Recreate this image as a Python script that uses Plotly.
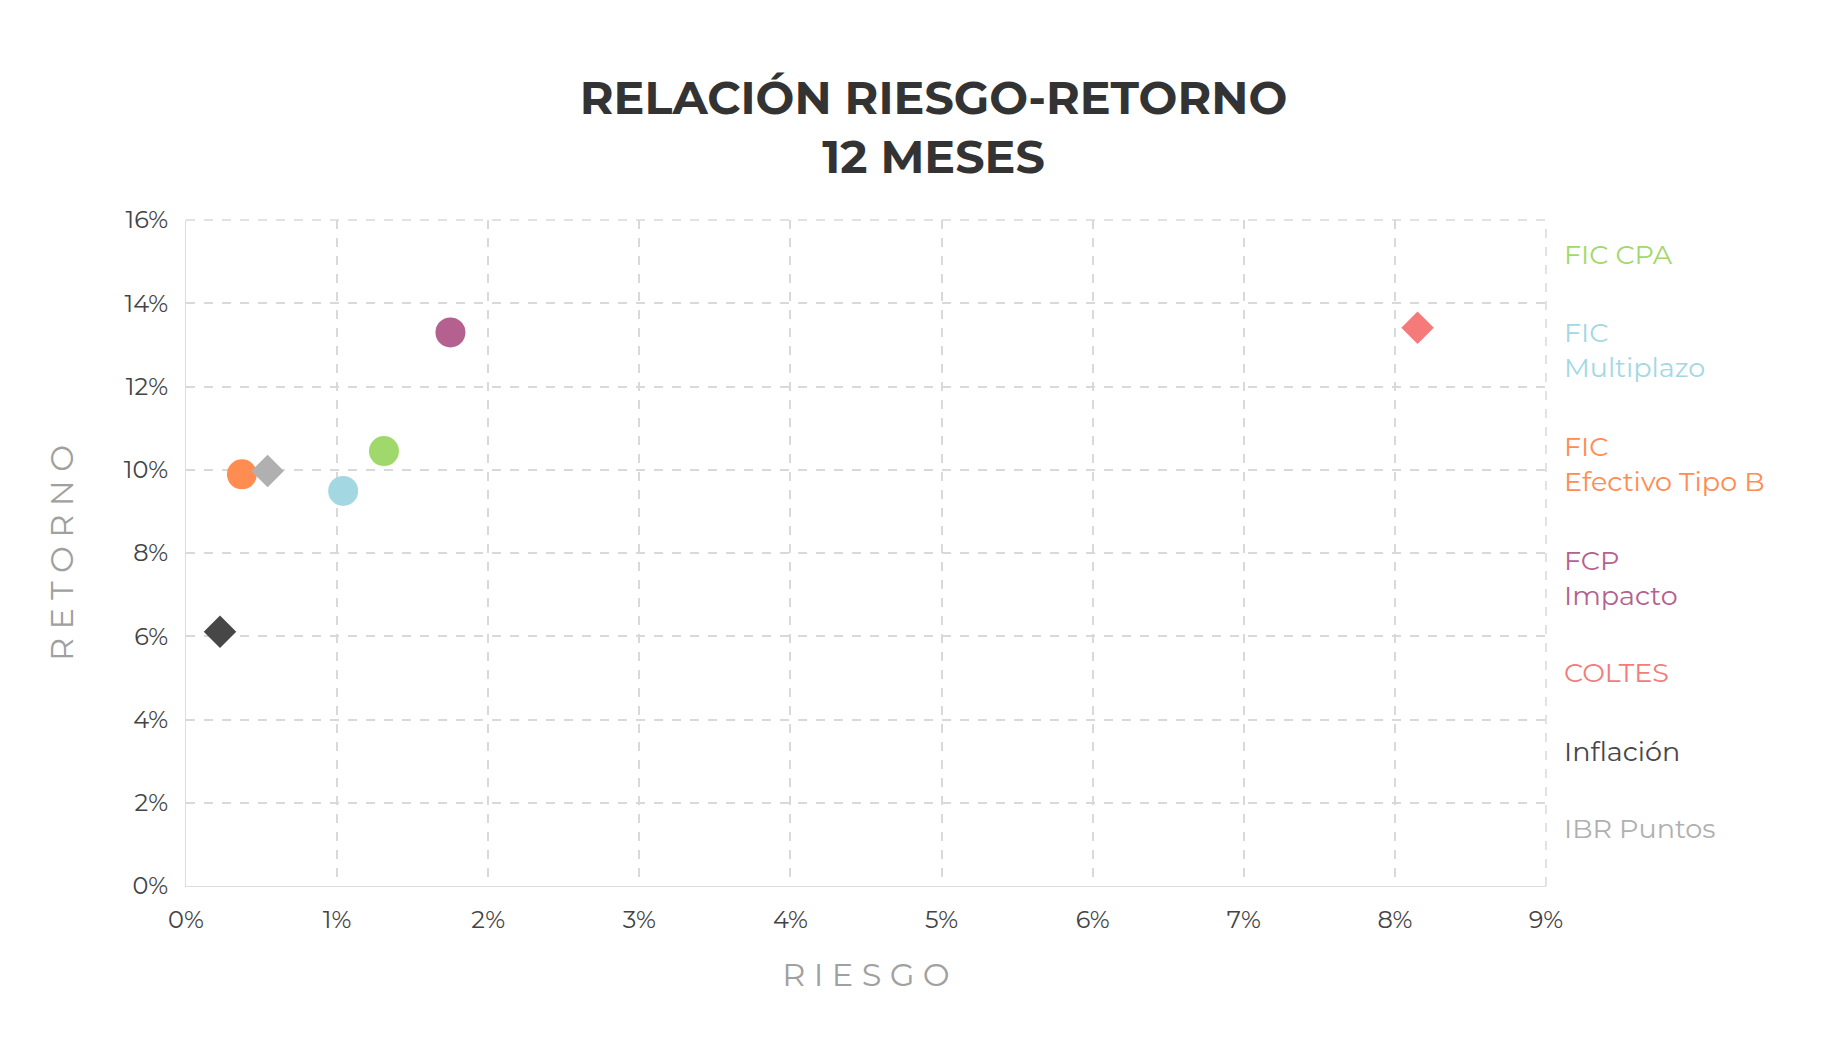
import plotly.graph_objects as go

names = ["FIC CPA", "FIC Multiplazo", "FIC Efectivo Tipo B", "FCP Impacto", "COLTES", "Inflación", "IBR Puntos"]
labels = ["FIC CPA", "FIC<br>Multiplazo", "FIC<br>Efectivo Tipo B", "FCP<br>Impacto", "COLTES", "Inflación", "IBR Puntos"]
riesgo = [0.0131, 0.0104, 0.0037, 0.0175, 0.0815, 0.00225, 0.0054]
retorno = [0.1045, 0.0949, 0.0989, 0.1330, 0.1341, 0.0611, 0.0997]
colors = ["#a0d96b", "#a3d8e3", "#ff8c50", "#b5618f", "#f57a7a", "#474747", "#b0b0b0"]
symbols = ["circle", "circle", "circle", "circle", "diamond", "diamond", "diamond"]
label_y = [0.1517, 0.1287, 0.1014, 0.0741, 0.0512, 0.0324, 0.0138]

font = "Montserrat, Lato, Open Sans, sans-serif"
fig = go.Figure()
for n, x, y, c, s in zip(names, riesgo, retorno, colors, symbols):
    fig.add_trace(go.Scatter(x=[x], y=[y], mode="markers", name=n,
                             marker=dict(color=c, symbol=s, size=30 if s == "circle" else 25)))
for l, y, c in zip(labels, label_y, colors):
    fig.add_annotation(x=1.012, xref="paper", y=y, yref="y", text=l, showarrow=False,
                       xanchor="left", align="left", font=dict(size=27, color=c, family=font))

# dashed top and right border gridlines
fig.add_shape(type="line", xref="paper", yref="paper", x0=0, x1=1, y0=1, y1=1,
              line=dict(color="#d9d9d9", dash="dash", width=1.5))
fig.add_shape(type="line", xref="paper", yref="paper", x0=1, x1=1, y0=0, y1=1,
              line=dict(color="#d9d9d9", dash="dash", width=1.5))

grid = dict(showgrid=True, gridcolor="#d9d9d9", griddash="dash", gridwidth=1.5, zeroline=False,
            tickformat=".0%", ticklabelstandoff=12, tickfont=dict(size=24, color="#444", family=font))
fig.update_layout(
    width=1840, height=1056, plot_bgcolor="white", paper_bgcolor="white", showlegend=False,
    margin=dict(l=178, r=302, t=212, b=178),
    title=dict(text="<b>RELACIÓN RIESGO-RETORNO<br>12 MESES</b>", x=0.503, xanchor="center",
               y=0.90, yanchor="top", font=dict(size=46, color="#333", family=font)),
    xaxis=dict(range=[0, 0.09], dtick=0.01, showline=True, linecolor="#ddd",
               title=dict(text="R I E S G O", font=dict(size=32, color="#a0a0a0", family=font), standoff=30), **grid),
    yaxis=dict(range=[0, 0.16], dtick=0.02, showline=True, linecolor="#ddd",
               title=dict(text="R E T O R N O", font=dict(size=32, color="#a0a0a0", family=font), standoff=40), **grid),
)
fig.write_html("out.html")
